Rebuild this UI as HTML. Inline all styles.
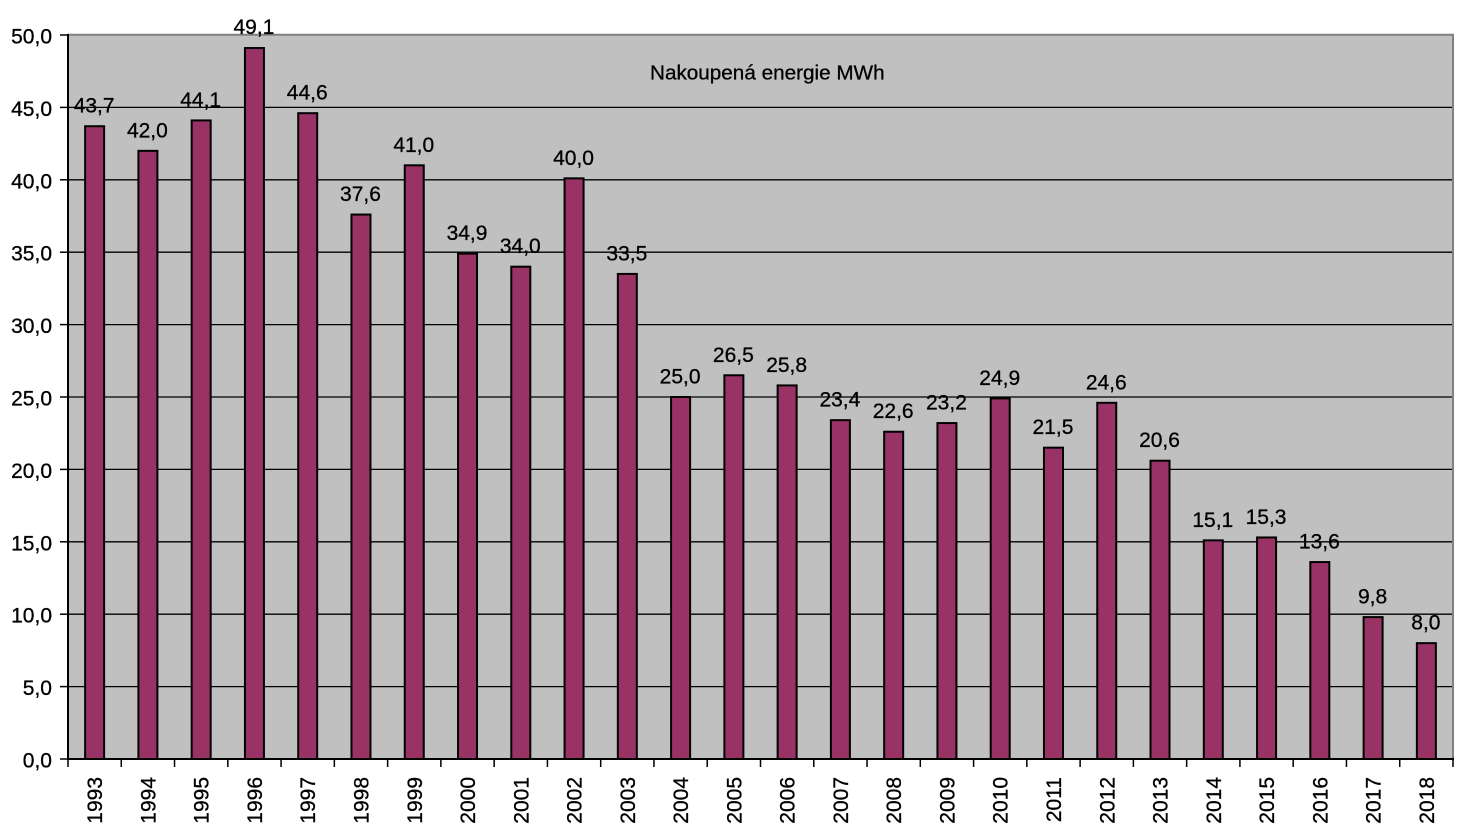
<!DOCTYPE html>
<html><head><meta charset="utf-8"><style>
html,body{margin:0;padding:0;background:#fff;}
svg{display:block;}
text{font-family:"Liberation Sans",Arial,sans-serif;fill:#000;stroke:#000;stroke-width:0.3px;}
</style></head><body>
<svg width="1458" height="830" viewBox="0 0 1458 830" xmlns="http://www.w3.org/2000/svg">
<rect x="0" y="0" width="1458" height="830" fill="#fff"/>
<rect x="68" y="35" width="1385" height="724" fill="#c0c0c0"/>
<g stroke="#000" stroke-width="1.3">
<line x1="68" x2="1453" y1="107.4" y2="107.4"/>
<line x1="68" x2="1453" y1="179.8" y2="179.8"/>
<line x1="68" x2="1453" y1="252.2" y2="252.2"/>
<line x1="68" x2="1453" y1="324.6" y2="324.6"/>
<line x1="68" x2="1453" y1="397" y2="397"/>
<line x1="68" x2="1453" y1="469.4" y2="469.4"/>
<line x1="68" x2="1453" y1="541.8" y2="541.8"/>
<line x1="68" x2="1453" y1="614.2" y2="614.2"/>
<line x1="68" x2="1453" y1="686.6" y2="686.6"/>
</g>
<line x1="67" x2="1454" y1="34.8" y2="34.8" stroke="#808080" stroke-width="2"/>
<line x1="1453" x2="1453" y1="34" y2="759" stroke="#808080" stroke-width="2"/>
<text x="650" y="79.5" font-size="20.7">Nakoupená energie MWh</text>
<g fill="#993366" stroke="#000" stroke-width="2">
<rect x="85.13" y="126.22" width="19" height="632.78"/>
<rect x="138.40" y="150.84" width="19" height="608.16"/>
<rect x="191.67" y="120.43" width="19" height="638.57"/>
<rect x="244.94" y="48.03" width="19" height="710.97"/>
<rect x="298.21" y="113.19" width="19" height="645.81"/>
<rect x="351.48" y="214.55" width="19" height="544.45"/>
<rect x="404.75" y="165.32" width="19" height="593.68"/>
<rect x="458.02" y="253.65" width="19" height="505.35"/>
<rect x="511.29" y="266.68" width="19" height="492.32"/>
<rect x="564.56" y="178.35" width="19" height="580.65"/>
<rect x="617.83" y="273.92" width="19" height="485.08"/>
<rect x="671.10" y="397" width="19" height="362"/>
<rect x="724.37" y="375.28" width="19" height="383.72"/>
<rect x="777.63" y="385.42" width="19" height="373.58"/>
<rect x="830.90" y="420.17" width="19" height="338.83"/>
<rect x="884.17" y="431.75" width="19" height="327.25"/>
<rect x="937.44" y="423.06" width="19" height="335.94"/>
<rect x="990.71" y="398.45" width="19" height="360.55"/>
<rect x="1043.98" y="447.68" width="19" height="311.32"/>
<rect x="1097.25" y="402.79" width="19" height="356.21"/>
<rect x="1150.52" y="460.71" width="19" height="298.29"/>
<rect x="1203.79" y="540.35" width="19" height="218.65"/>
<rect x="1257.06" y="537.46" width="19" height="221.54"/>
<rect x="1310.33" y="562.07" width="19" height="196.93"/>
<rect x="1363.60" y="617.1" width="19" height="141.9"/>
<rect x="1416.87" y="643.16" width="19" height="115.84"/>
</g>
<g font-size="21" text-anchor="middle">
<text x="94.13" y="112.7">43,7</text>
<text x="147.40" y="137.3">42,0</text>
<text x="200.67" y="106.9">44,1</text>
<text x="253.94" y="34">49,1</text>
<text x="307.21" y="99.7">44,6</text>
<text x="360.48" y="201">37,6</text>
<text x="413.75" y="151.8">41,0</text>
<text x="467.02" y="240.1">34,9</text>
<text x="520.29" y="253.2">34,0</text>
<text x="573.56" y="164.8">40,0</text>
<text x="626.83" y="260.4">33,5</text>
<text x="680.10" y="383.5">25,0</text>
<text x="733.37" y="361.8">26,5</text>
<text x="786.63" y="371.9">25,8</text>
<text x="839.90" y="406.7">23,4</text>
<text x="893.17" y="418.2">22,6</text>
<text x="946.44" y="409.3">23,2</text>
<text x="999.71" y="384.9">24,9</text>
<text x="1052.98" y="434.2">21,5</text>
<text x="1106.25" y="389.3">24,6</text>
<text x="1159.52" y="447.2">20,6</text>
<text x="1212.79" y="526.8">15,1</text>
<text x="1266.06" y="524">15,3</text>
<text x="1319.33" y="548.6">13,6</text>
<text x="1372.60" y="603.6">9,8</text>
<text x="1425.87" y="629.7">8,0</text>
</g>
<line x1="68" x2="68" y1="34" y2="760" stroke="#000" stroke-width="2"/>
<line x1="67" x2="1454" y1="759" y2="759" stroke="#000" stroke-width="2"/>
<g stroke="#000" stroke-width="1.5">
<line x1="60" x2="68" y1="35" y2="35"/>
<line x1="60" x2="68" y1="107.4" y2="107.4"/>
<line x1="60" x2="68" y1="179.8" y2="179.8"/>
<line x1="60" x2="68" y1="252.2" y2="252.2"/>
<line x1="60" x2="68" y1="324.6" y2="324.6"/>
<line x1="60" x2="68" y1="397" y2="397"/>
<line x1="60" x2="68" y1="469.4" y2="469.4"/>
<line x1="60" x2="68" y1="541.8" y2="541.8"/>
<line x1="60" x2="68" y1="614.2" y2="614.2"/>
<line x1="60" x2="68" y1="686.6" y2="686.6"/>
<line x1="60" x2="68" y1="759" y2="759"/>
<line x1="68" x2="68" y1="759" y2="767"/>
<line x1="121.27" x2="121.27" y1="759" y2="767"/>
<line x1="174.54" x2="174.54" y1="759" y2="767"/>
<line x1="227.81" x2="227.81" y1="759" y2="767"/>
<line x1="281.08" x2="281.08" y1="759" y2="767"/>
<line x1="334.35" x2="334.35" y1="759" y2="767"/>
<line x1="387.62" x2="387.62" y1="759" y2="767"/>
<line x1="440.88" x2="440.88" y1="759" y2="767"/>
<line x1="494.15" x2="494.15" y1="759" y2="767"/>
<line x1="547.42" x2="547.42" y1="759" y2="767"/>
<line x1="600.69" x2="600.69" y1="759" y2="767"/>
<line x1="653.96" x2="653.96" y1="759" y2="767"/>
<line x1="707.23" x2="707.23" y1="759" y2="767"/>
<line x1="760.50" x2="760.50" y1="759" y2="767"/>
<line x1="813.77" x2="813.77" y1="759" y2="767"/>
<line x1="867.04" x2="867.04" y1="759" y2="767"/>
<line x1="920.31" x2="920.31" y1="759" y2="767"/>
<line x1="973.58" x2="973.58" y1="759" y2="767"/>
<line x1="1026.85" x2="1026.85" y1="759" y2="767"/>
<line x1="1080.12" x2="1080.12" y1="759" y2="767"/>
<line x1="1133.38" x2="1133.38" y1="759" y2="767"/>
<line x1="1186.65" x2="1186.65" y1="759" y2="767"/>
<line x1="1239.92" x2="1239.92" y1="759" y2="767"/>
<line x1="1293.19" x2="1293.19" y1="759" y2="767"/>
<line x1="1346.46" x2="1346.46" y1="759" y2="767"/>
<line x1="1399.73" x2="1399.73" y1="759" y2="767"/>
<line x1="1453" x2="1453" y1="759" y2="767"/>
</g>
<g font-size="21" text-anchor="end">
<text x="52" y="43.5">50,0</text>
<text x="52" y="115.9">45,0</text>
<text x="52" y="188.3">40,0</text>
<text x="52" y="260.7">35,0</text>
<text x="52" y="333.1">30,0</text>
<text x="52" y="405.5">25,0</text>
<text x="52" y="477.9">20,0</text>
<text x="52" y="550.3">15,0</text>
<text x="52" y="622.7">10,0</text>
<text x="52" y="695.1">5,0</text>
<text x="52" y="767.5">0,0</text>
</g>
<g font-size="21" text-anchor="end">
<text transform="translate(102.1,777) rotate(-90)">1993</text>
<text transform="translate(155.4,777) rotate(-90)">1994</text>
<text transform="translate(208.7,777) rotate(-90)">1995</text>
<text transform="translate(261.9,777) rotate(-90)">1996</text>
<text transform="translate(315.2,777) rotate(-90)">1997</text>
<text transform="translate(368.5,777) rotate(-90)">1998</text>
<text transform="translate(421.8,777) rotate(-90)">1999</text>
<text transform="translate(475.0,777) rotate(-90)">2000</text>
<text transform="translate(528.3,777) rotate(-90)">2001</text>
<text transform="translate(581.6,777) rotate(-90)">2002</text>
<text transform="translate(634.8,777) rotate(-90)">2003</text>
<text transform="translate(688.1,777) rotate(-90)">2004</text>
<text transform="translate(741.4,777) rotate(-90)">2005</text>
<text transform="translate(794.6,777) rotate(-90)">2006</text>
<text transform="translate(847.9,777) rotate(-90)">2007</text>
<text transform="translate(901.2,777) rotate(-90)">2008</text>
<text transform="translate(954.4,777) rotate(-90)">2009</text>
<text transform="translate(1007.7,777) rotate(-90)">2010</text>
<text transform="translate(1061.0,777) rotate(-90)">2011</text>
<text transform="translate(1114.3,777) rotate(-90)">2012</text>
<text transform="translate(1167.5,777) rotate(-90)">2013</text>
<text transform="translate(1220.8,777) rotate(-90)">2014</text>
<text transform="translate(1274.1,777) rotate(-90)">2015</text>
<text transform="translate(1327.3,777) rotate(-90)">2016</text>
<text transform="translate(1380.6,777) rotate(-90)">2017</text>
<text transform="translate(1433.9,777) rotate(-90)">2018</text>
</g>
</svg>
</body></html>
